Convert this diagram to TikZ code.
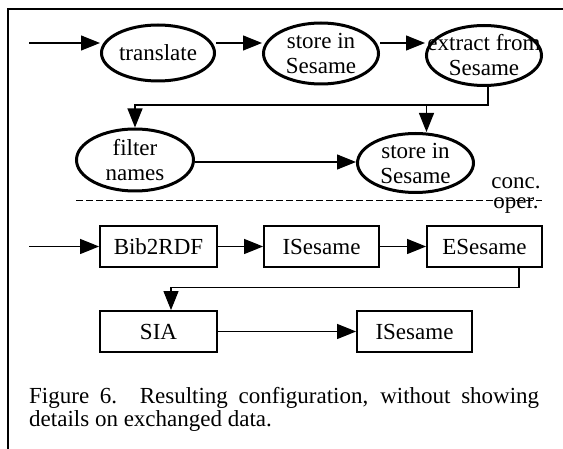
\documentclass[tikz,border=0pt]{standalone}
\usepackage{fontspec}
\setmainfont{Liberation Serif}
\usetikzlibrary{arrows.meta,shapes.geometric}
\newcommand\zl[1]{\makebox[0pt]{#1}}
\newcommand\dfont{\fontsize{23}{25}\selectfont}
\tikzset{
  ell/.style={ellipse, draw, line width=3pt, inner sep=0pt, align=center, font=\dfont},
  boxnode/.style={rectangle, draw, line width=1.8pt, inner sep=0pt, minimum height=41pt, font=\dfont},
  arr/.style={-{Triangle[length=19pt,width=15pt]}, line width=1.2pt},
  lbl/.style={inner sep=0pt, font=\dfont},
  frame/.style={line width=1.6pt},
  dashline/.style={line width=1pt, dash pattern=on 6.5pt off 3.5pt}
}
\begin{document}
\begin{tikzpicture}[x=1pt,y=-1pt]
\useasboundingbox (0,0) rectangle (563,449);
\draw[frame] (570,9) -- (8,9) -- (8,460);
% ellipses
\node[ell, minimum width=113pt, minimum height=56pt] (tr) at (158,53) {\zl{translate}};
\node[ell, minimum width=115pt, minimum height=61pt] (st1) at (321,53.5) {\zl{store in}\\\zl{Sesame}};
\node[ell, minimum width=115pt, minimum height=60pt] (ex) at (484,55.5) {\zl{extract from}\\\zl{Sesame}};
\node[ell, minimum width=117pt, minimum height=62pt] (fn) at (135,160) {\zl{filter}\\\zl{names}};
\node[ell, minimum width=116pt, minimum height=59pt] (st2) at (415.5,163) {\zl{store in}\\\zl{Sesame}};
\node[lbl, align=center, anchor=north, font={\fontsize{23}{20}\selectfont}] (conc) at (516,177.5) {conc.\\oper.};
\coordinate (dl) at (76,201);
\coordinate (dr) at (542,201);
\draw[dashline] (dl) -- (dr);
% boxes
\node[boxnode, minimum width=117pt] (bib) at (158.5,246.5) {Bib2RDF};
\node[boxnode, minimum width=115pt] (is1) at (321.5,246.5) {ISesame};
\node[boxnode, minimum width=115pt] (es) at (484.5,246.5) {ESesame};
\node[boxnode, minimum width=117pt] (sia) at (158.5,331.5) {SIA};
\node[boxnode, minimum width=115pt] (is2) at (414.5,331.5) {ISesame};
% connectors top
\coordinate (i1) at (29,43);
\draw[arr] (i1) -- (i1 -| tr.west);
\draw[arr] (tr.east |- i1) -- (st1.west |- i1);
\draw[arr] (st1.east |- i1) -- (ex.west |- i1);
\coordinate (j1) at ([xshift=4pt,yshift=-18pt]ex.south);
\draw[arr] (ex.south -| j1) -- (j1) -| (fn.north);
\draw[arr] ([xshift=11pt]st2.north |- j1) -- ([xshift=11pt]st2.north);
\draw[arr] ([yshift=-2pt]fn.east) -- ([yshift=-2pt]fn.east -| st2.west);
% connectors bottom
\coordinate (i2) at (29,246.5);
\draw[arr] (i2) -- (bib.west);
\draw[arr] (bib) -- (is1);
\draw[arr] (is1) -- (es);
\coordinate (j2) at ([xshift=34.5pt,yshift=-20pt]es.south);
\draw[arr] (es.south -| j2) -- (j2) -| ([xshift=12.5pt]sia.north);
\draw[arr] (sia) -- (is2);
% caption
\node[lbl, anchor=base west] (cap1) at (29,403) {\makebox[510pt][s]{Figure 6. Resulting configuration, without showing}};
\node[lbl, anchor=base west] (cap2) at (29,427) {details on exchanged data.};
\end{tikzpicture}
\end{document}
